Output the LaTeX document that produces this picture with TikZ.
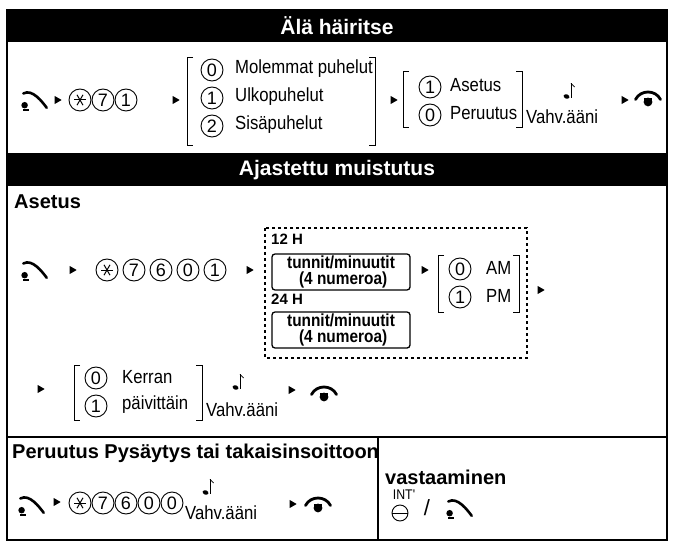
\documentclass[tikz,border=0pt]{standalone}
\usepackage{fontspec}
\setmainfont{Liberation Sans}
\newfontfamily\narrow[FakeStretch=0.88]{Liberation Sans}
\usetikzlibrary{shapes.geometric}
\newcommand{\starsym}{\tikz[x=1pt,y=1pt,line width=1pt]{\foreach \a in {0,60,120}{\draw (\a:6) -- (\a+180:6);}}}
\tikzset{
 x=1pt,y=-1pt,
 dig/.style={circle,draw,line width=0.9pt,minimum size=22pt,inner sep=0pt,font=\fontsize{18}{18}\selectfont},
 tri/.style={isosceles triangle,fill,minimum height=7pt,minimum width=8pt,inner sep=0pt,isosceles triangle apex angle=60},
 lbl/.style={font=\narrow\fontsize{19}{18}\selectfont,inner sep=0pt,anchor=west},
 hdr/.style={font=\bfseries\fontsize{21}{21}\selectfont,text=white},
 sec/.style={font=\bfseries\fontsize{20}{20}\selectfont,anchor=west,inner sep=0pt},
 tbox/.style={draw,line width=1.3pt,rounded corners=3pt,font=\narrow\bfseries\fontsize{17.5}{16}\selectfont,align=center,minimum width=138pt,minimum height=36pt,inner sep=0.5pt},
 hh/.style={font=\bfseries\fontsize{15}{15}\selectfont,inner sep=0pt,anchor=west},
 br/.style={line width=0.9pt},
 offhook/.pic={\begin{scope}[scale=1.3]\draw[line width=2.6pt,line cap=round] (-9,-5) .. controls (-2,-9) and (6,2) .. (9,6);
   \fill (-8,4) circle (2.5pt); \fill (-9,7) rectangle (-5,8.5);\end{scope}},
 onhook/.pic={\begin{scope}[scale=1.25]\draw[line width=2.8pt,line cap=round] (-10,2) .. controls (-6,-6) and (6,-6) .. (10,2);
   \fill (0,4) circle (3.5pt); \fill (-3,1) rectangle (3,3);\end{scope}},
 note/.pic={\begin{scope}[scale=1.2]\draw[line width=0.8pt] (0,-8) -- (0,4); \fill[rotate=-20] (-2.5,4) ellipse (2.5pt and 1.8pt); \draw[line width=0.8pt] (0,-8) -- (3,-5);\end{scope}}
}
\begin{document}
\begin{tikzpicture}
\useasboundingbox (0,0) rectangle (674,545);
\draw[line width=1.2pt] (7,10) rectangle (667,540);
\fill (7,10) rectangle (667,42);
\node[hdr] (h1) at (337,26) {Älä häiritse};
\fill (7,153) rectangle (667,186);
\node[hdr] (h2) at (337,170) {Ajastettu muistutus};
\draw[line width=1.2pt] (7,437) -- (667,437);
\draw[line width=1.2pt] (378,437) -- (378,540);
% row 1
\pic at (35,100) {offhook};
\node[tri] (a1) at (57,100) {};
\node[dig] (s1) at (80,100) {\starsym};
\node[dig] (s2) at (103,100) {7};
\node[dig] (s3) at (126,100) {1};
\node[tri] (a2) at (175,100) {};
\draw[br] (193,57) -- (187,57) -- (187,145) -- (193,145);
\draw[br] (369,57) -- (375,57) -- (375,145) -- (369,145);
\node[dig] (c0) at (212,70) {0}; \node[lbl] (t0) at (235,69) {Molemmat puhelut};
\node[dig] (c1) at (212,98) {1}; \node[lbl] (t1) at (235,97) {Ulkopuhelut};
\node[dig] (c2) at (212,126) {2}; \node[lbl] (t2) at (235,125) {Sisäpuhelut};
\node[tri] (a3) at (393,100) {};
\draw[br] (409,71) -- (403,71) -- (403,127) -- (409,127);
\draw[br] (516,71) -- (522,71) -- (522,127) -- (516,127);
\node[dig] (d1) at (430,87) {1}; \node[lbl] (u1) at (450,85) {Asetus};
\node[dig] (d0) at (430,115) {0}; \node[lbl] (u0) at (450,113) {Peruutus};
\pic at (571,93) {note};
\node[lbl] (v1) at (526,117) {Vahv.ääni};
\node[tri] (a4) at (624,100) {};
\pic at (648,97) {onhook};
% Asetus
\node[sec] (as) at (14,202) {Asetus};
\pic at (35,270) {offhook};
\node[tri] (b1) at (72,270) {};
\node[dig] (e1) at (107,270) {\starsym};
\node[dig] (e2) at (134,270) {7};
\node[dig] (e3) at (161,270) {6};
\node[dig] (e4) at (188,270) {0};
\node[dig] (e5) at (215,270) {1};
\node[tri] (b2) at (249,270) {};
\draw[dashed,line width=1.2pt] (265,228) rectangle (527,358);
\node[hh] (h12) at (271,239) {12 H};
\node[tbox] (bx1) at (341,272) {tunnit/minuutit\\\ (4 numeroa)};
\node[hh] (h24) at (271,299) {24 H};
\node[tbox] (bx2) at (341,330) {tunnit/minuutit\\\ (4 numeroa)};
\node[tri] (b3) at (424,270) {};
\draw[br] (444,255) -- (438,255) -- (438,312) -- (444,312);
\draw[br] (513,255) -- (519,255) -- (519,312) -- (513,312);
\node[dig] (f0) at (460,269) {0}; \node[lbl] (am) at (486,268) {AM};
\node[dig] (f1) at (460,297) {1}; \node[lbl] (pm) at (486,296) {PM};
\node[tri] (b4) at (540,290) {};
\node[tri] (g1) at (40,389) {};
\draw[br] (80,365) -- (74,365) -- (74,420) -- (80,420);
\draw[br] (196,365) -- (202,365) -- (202,420) -- (196,420);
\node[dig] (k0) at (96,378) {0}; \node[lbl] (kt0) at (122,377) {Kerran};
\node[dig] (k1) at (96,406) {1}; \node[lbl] (kt1) at (122,405) {päivittäin};
\pic at (240,384) {note};
\node[lbl] (v2) at (206,410) {Vahv.ääni};
\node[tri] (g2) at (291,390) {};
\pic at (324,392) {onhook};
% bottom
\node[sec] (pp) at (12,453) {Peruutus Pysäytys tai takaisinsoittoon};
\pic at (32,505) {offhook};
\node[tri] (m1) at (56,502) {};
\node[dig] (n1) at (80,503) {\starsym};
\node[dig] (n2) at (103,503) {7};
\node[dig] (n3) at (126,503) {6};
\node[dig] (n4) at (149,503) {0};
\node[dig] (n5) at (172,503) {0};
\pic at (210,489) {note};
\node[lbl] (v3) at (185,513) {Vahv.ääni};
\node[tri] (m2) at (292,504) {};
\pic at (318,503) {onhook};
\node[sec] (va) at (385,477) {vastaaminen};
\node[font=\narrow\fontsize{14}{14}\selectfont,inner sep=0pt] (int) at (404,495) {INT'};
\draw[line width=0.9pt] (400,513) circle (8);
\draw[line width=0.9pt] (392,513) -- (408,513);
\node[font=\fontsize{22}{22}\selectfont] (sl) at (427,508) {/};
\pic at (460,508) {offhook};
\end{tikzpicture}
\end{document}
